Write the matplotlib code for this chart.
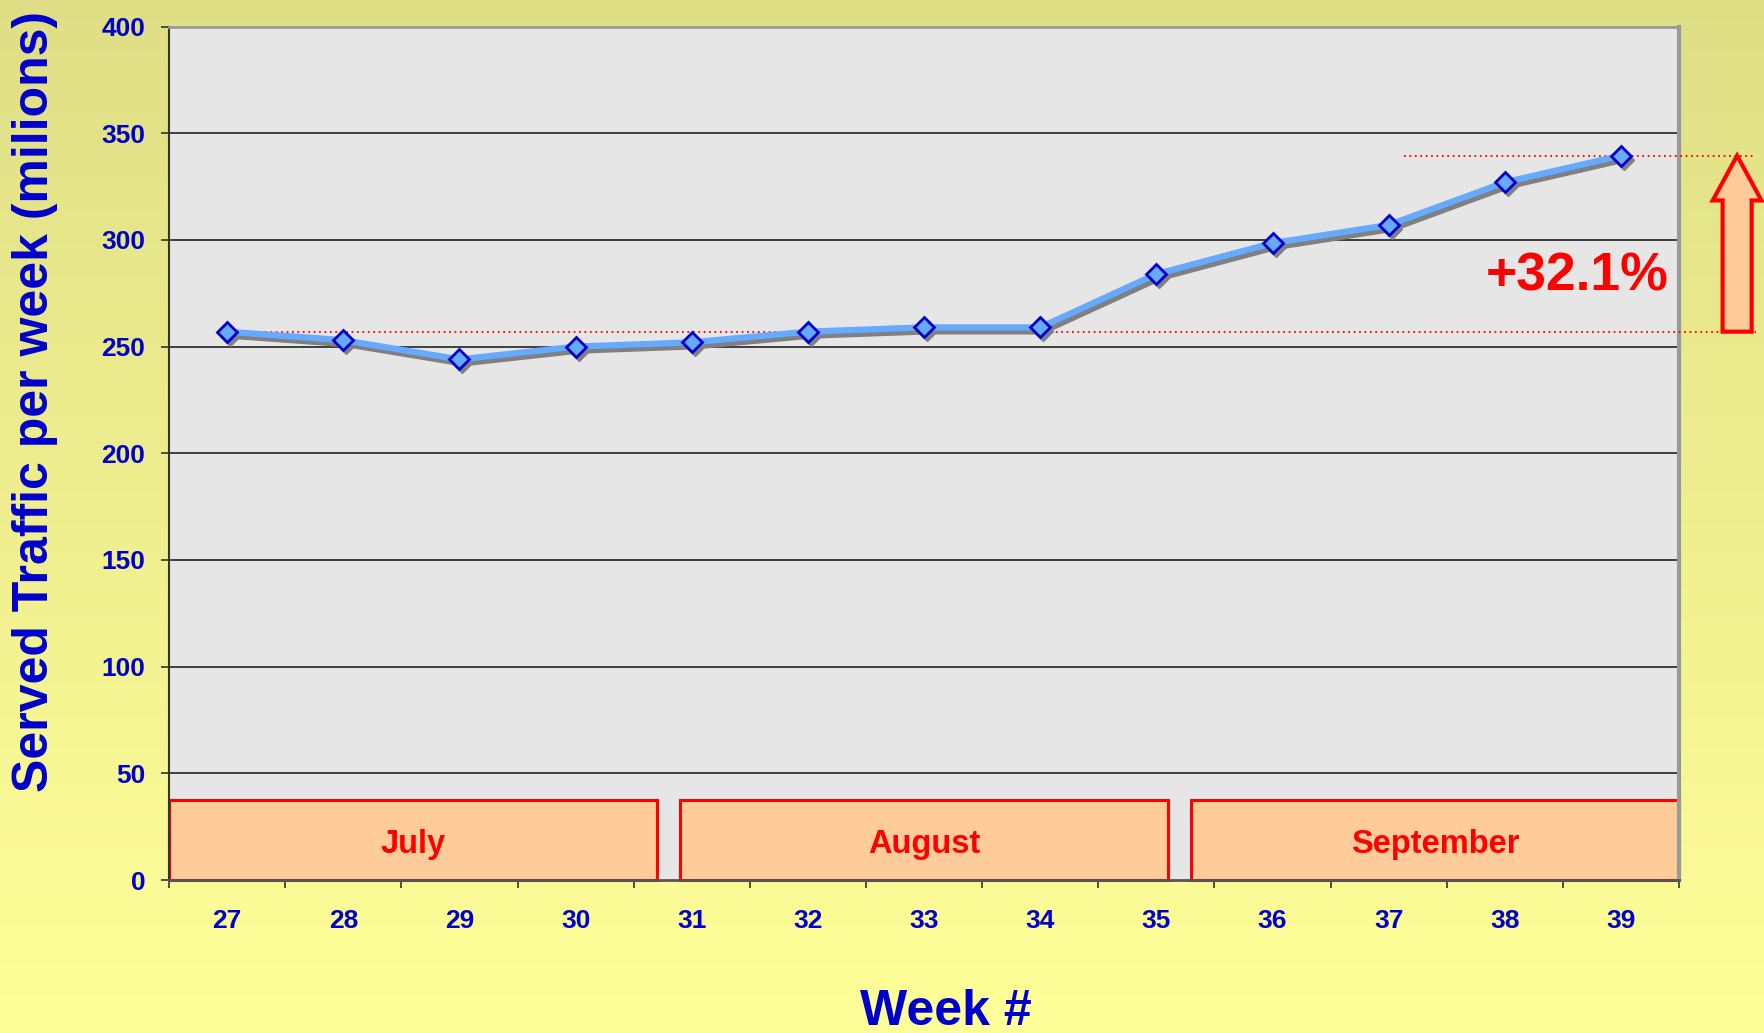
import numpy as np
import matplotlib
matplotlib.use('Agg')
import matplotlib.pyplot as plt
import matplotlib.patches as mpatches
import matplotlib.transforms as mtransforms

weeks = [27, 28, 29, 30, 31, 32, 33, 34, 35, 36, 37, 38, 39]
traffic = [257, 253, 244, 250, 252, 257, 259, 259, 284, 298.5, 307, 327, 339.5]
months = ['July', 'August', 'September']
month_spans = [(-0.5, 3.7), (3.9, 8.1), (8.3, 12.5)]
month_box_top = 37.4

BLUE = '#0000CC'
plt.rcParams['font.family'] = ['Liberation Sans', 'DejaVu Sans']
plt.rcParams['font.weight'] = 'bold'

fig = plt.figure(figsize=(17.65, 10.33), dpi=100)

# yellow gradient background
bg = fig.add_axes([0, 0, 1, 1], zorder=-10)
top = np.array([0.875, 0.872, 0.525])
bot = np.array([1.0, 1.0, 0.60])
t = np.linspace(0, 1, 256)[:, None]
grad = top * (1 - t) + bot * t
bg.imshow(grad[:, None, :], aspect='auto', extent=[0, 1, 0, 1])
bg.axis('off')

ax = fig.add_axes([0.0958, 0.1481, 0.8555, 0.8262])
ax.set_facecolor('#E6E6E6')
x = np.arange(len(weeks))

# gridlines
ax.set_ylim(0, 400)
ax.set_xlim(-0.5, len(weeks) - 0.5)
ax.set_yticks(range(0, 401, 50))
for yv in range(50, 401, 50):
    ax.axhline(yv, color='#222222', lw=1.2, zorder=1)

# month boxes
for name, (x0, x1) in zip(months, month_spans):
    ax.add_patch(mpatches.Rectangle((x0, 0), x1 - x0, month_box_top, fc='#FFCC99',
                                    ec='red', lw=2.2, zorder=2, clip_on=False))
    ax.text((x0 + x1) / 2, 16.8, name, color='red', fontsize=23.5,
            fontweight='bold', ha='center', va='center', zorder=3)

# reference lines for the growth
ax.plot([0, 13.16], [traffic[0], traffic[0]], color='red', ls=(0, (1, 2)), lw=1.3,
        clip_on=False, zorder=3)
ax.plot([10.13, 13.16], [traffic[-1], traffic[-1]], color='red', ls=(0, (1, 2)), lw=1.3,
        clip_on=False, zorder=3)

# shadow + series
shadow = mtransforms.offset_copy(ax.transData, fig=fig, x=3, y=-4, units='dots')
ax.plot(x, traffic, color='#808080', lw=4.5, marker='D', ms=10.5, mfc='#808080',
        mec='#808080', transform=shadow, zorder=4)
ax.plot(x, traffic, color='#66AAFF', lw=4.5, marker='D', ms=10.5, mfc='#66AAFF',
        mec=BLUE, mew=2, zorder=5)

growth = (traffic[-1] / traffic[0] - 1) * 100
ax.text(11.62, 283, f'+{growth:.1f}%', color='red', fontsize=38.5, fontweight='bold',
        ha='center', va='center', zorder=6)

arrow = mpatches.FancyArrow(13.0, traffic[0], 0, traffic[-1] - traffic[0], width=0.25,
                            head_width=0.42, head_length=21, length_includes_head=True,
                            fc='#FFCC99', ec='red', lw=3, clip_on=False, zorder=6)
ax.add_patch(arrow)

# axes styling
ax.set_xticks(x)
ax.set_xticklabels([str(w) for w in weeks])
ax.set_xticks(np.arange(-0.5, len(weeks)), minor=True)
ax.tick_params(axis='x', which='major', length=0, pad=21, labelsize=19, labelcolor=BLUE)
ax.tick_params(axis='x', which='minor', length=6, width=1.2, color='#333333')
ax.tick_params(axis='y', length=6, width=1.2, color='#333333', pad=11, labelsize=19,
               labelcolor=BLUE)
for lab in ax.get_xticklabels() + ax.get_yticklabels():
    lab.set_fontweight('bold')

ax.spines['left'].set_color('#333333')
ax.spines['left'].set_linewidth(1.5)
ax.spines['bottom'].set_color('#555555')
ax.spines['bottom'].set_linewidth(2)
ax.spines['right'].set_color('#999999')
ax.spines['right'].set_linewidth(3)
ax.spines['top'].set_color('#999999')
ax.spines['top'].set_linewidth(2)

fig.text(0.020, 0.611, 'Served Traffic per week (milions)', rotation=90, color=BLUE,
         fontsize=36, fontweight='bold', ha='center', va='center')
fig.text(0.536, 0.02, 'Week #', color=BLUE, fontsize=36, fontweight='bold',
         ha='center', va='center')

plt.savefig('out.png', dpi=100)
